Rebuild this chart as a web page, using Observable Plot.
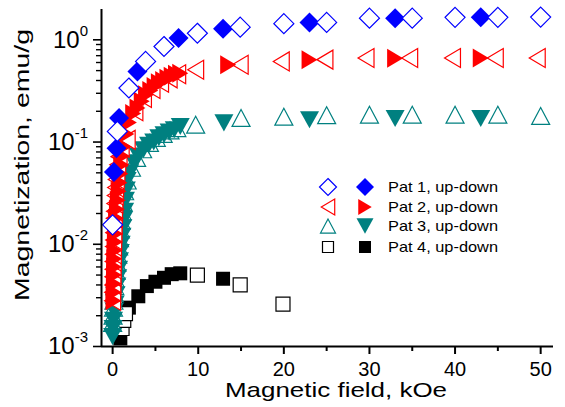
<!DOCTYPE html>
<html><head><meta charset="utf-8">
<script src="https://cdn.jsdelivr.net/npm/d3@7"></script>
<script src="https://cdn.jsdelivr.net/npm/@observablehq/plot@0.6"></script>
<style>
body{margin:0;background:#fff;}
#wrap{position:relative;width:565px;height:407px;}
</style></head><body><div id="wrap"></div>
<script>
// ---- data (magnetic field H in kOe, magnetization M in emu/g) ----
const pat1OpenH = [0.0, 0.55, 1.9, 3.85, 6.0, 9.9, 14.9, 20, 25, 30, 35, 40, 45, 50];
const pat1OpenM = [0.0155, 0.127, 0.338, 0.615, 0.86, 1.16, 1.33, 1.44, 1.48, 1.63, 1.63, 1.66, 1.66, 1.67];
const pat1FillH = [0.15, 0.45, 0.75, 2.9, 7.7, 12.9, 23, 33, 43];
const pat1FillM = [0.051, 0.087, 0.172, 0.49, 1.04, 1.28, 1.48, 1.63, 1.66];

const pat2OpenH = [0, 0, 0.02, 0.03, 0.05, 0.06, 0.08, 0.1, 0.12, 0.14, 0.16, 0.19, 0.22, 0.26, 0.3, 0.35, 0.42, 0.5, 0.6, 0.75, 1.0, 1.7, 2.6, 3.6, 4.6, 5.6, 6.6, 7.6, 9.7, 14.9, 19.7, 24.8, 29.6, 34.7, 39.7, 44.7, 49.6];
const pat2OpenM = [0.0028, 0.0034, 0.004, 0.0048, 0.0057, 0.0068, 0.008, 0.0095, 0.011, 0.013, 0.0155, 0.018, 0.021, 0.025, 0.03, 0.036, 0.043, 0.051, 0.06, 0.072, 0.088, 0.105, 0.2, 0.27, 0.33, 0.38, 0.42, 0.46, 0.51, 0.57, 0.615, 0.64, 0.664, 0.664, 0.664, 0.664, 0.664];
const pat2FillH = [0.1, 0.12, 0.14, 0.16, 0.18, 0.2, 0.23, 0.26, 0.3, 0.35, 0.4, 0.5, 0.6, 0.7, 0.8, 0.9, 1.0, 1.1, 1.3, 1.6, 1.9, 2.4, 2.9, 3.4, 3.9, 4.4, 4.9, 5.4, 5.9, 6.4, 6.9, 7.4, 7.9, 13.5, 23, 33, 43];
const pat2FillM = [0.0028, 0.0034, 0.0041, 0.005, 0.006, 0.0072, 0.0087, 0.0105, 0.0127, 0.015, 0.018, 0.022, 0.027, 0.033, 0.04, 0.049, 0.06, 0.073, 0.09, 0.12, 0.155, 0.19, 0.215, 0.25, 0.29, 0.32, 0.35, 0.38, 0.40, 0.42, 0.44, 0.46, 0.47, 0.57, 0.64, 0.66, 0.665];

const pat3OpenH = [0, 0.05, 0.1, 0.15, 0.2, 0.25, 0.3, 0.4, 0.5, 0.6, 0.7, 0.8, 0.9, 1.0, 1.1, 1.2, 1.4, 1.7, 2.2, 2.8, 3.5, 4.3, 5.1, 5.9, 6.7, 7.5, 9.7, 15, 20, 25, 30, 35, 40, 45, 50];
const pat3OpenM = [0.0017, 0.002, 0.0024, 0.0028, 0.0033, 0.0039, 0.0046, 0.0055, 0.0066, 0.0079, 0.0095, 0.0115, 0.014, 0.017, 0.021, 0.026, 0.033, 0.042, 0.056, 0.07, 0.085, 0.098, 0.11, 0.12, 0.13, 0.137, 0.148, 0.172, 0.177, 0.183, 0.185, 0.185, 0.185, 0.185, 0.18];
const pat3FillH = [0, 0.05, 0.1, 0.2, 0.3, 0.4, 0.5, 0.6, 0.7, 0.8, 0.9, 1.0, 1.1, 1.2, 1.3, 1.4, 1.5, 1.6, 1.7, 2.0, 2.5, 3.0, 3.6, 4.2, 4.8, 5.4, 6.0, 6.6, 7.2, 7.9, 13, 23, 33, 43];
const pat3FillM = [0.00125, 0.0015, 0.0018, 0.0022, 0.0026, 0.0032, 0.0039, 0.0047, 0.0057, 0.0069, 0.0083, 0.01, 0.012, 0.0145, 0.0175, 0.021, 0.027, 0.034, 0.042, 0.05, 0.0625, 0.073, 0.084, 0.093, 0.10, 0.11, 0.118, 0.125, 0.132, 0.142, 0.154, 0.165, 0.17, 0.17];

const pat4OpenH = [1.1, 1.3, 1.5, 9.9, 14.9, 19.9];
const pat4OpenM = [0.0015, 0.0018, 0.0021, 0.005, 0.0040, 0.0026];
const pat4FillH = [0.9, 1.9, 3.0, 4.0, 5.0, 6.0, 6.9, 7.9, 12.9];
const pat4FillM = [0.0012, 0.0024, 0.0031, 0.0039, 0.0043, 0.0047, 0.0051, 0.0052, 0.0046];

const legendLabels = ["Pat 1, up-down", "Pat 2, up-down", "Pat 3, up-down", "Pat 4, up-down"];
const xMajor = [0, 10, 20, 30, 40, 50];
const xMinor = [5, 15, 25, 35, 45];
const yMajor = [0.001, 0.01, 0.1, 1];
const yMinor = [0.002,0.003,0.004,0.005,0.006,0.007,0.008,0.009,0.02,0.03,0.04,0.05,0.06,0.07,0.08,0.09,0.2,0.3,0.4,0.5,0.6,0.7,0.8,0.9];
const xDomain = [-1.3, 51.5];
const yDomain = [0.001, 1.98];

// ---- symbols (centred on bounding box) ----
const sym = pts => ({draw(ctx, size) {
  const r = Math.sqrt(size / Math.PI);
  ctx.moveTo(pts[0][0] * r, pts[0][1] * r);
  for (let i = 1; i < pts.length; i++) ctx.lineTo(pts[i][0] * r, pts[i][1] * r);
  ctx.closePath();
}});
const diamond = sym([[0,-1],[1,0],[0,1],[-1,0]]);
const triLeft = sym([[-0.84,0],[0.84,-1],[0.84,1]]);
const triRight = sym([[0.84,0],[-0.84,-1],[-0.84,1]]);
const triUp = sym([[0,-0.94],[1,0.94],[-1,0.94]]);
const triDown = sym([[0,0.9],[1,-0.9],[-1,-0.9]]);
const square = sym([[-1,-1],[1,-1],[1,1],[-1,1]]);

const BLUE = "#0000ff", RED = "#ff0000", TEAL = "#008080", BLACK = "#000000";
const rows = (H, M) => H.map((h, i) => ({H: h, M: M[i]}));
const open = (H, M, s, r, c) => Plot.dot(rows(H, M), {x: "H", y: "M", symbol: s, r, fill: "white", stroke: c, strokeWidth: 1.2});
const full = (H, M, s, r, c) => Plot.dot(rows(H, M), {x: "H", y: "M", symbol: s, r, fill: c, stroke: "none"});
const none = () => "";

const chart = Plot.plot({
  width: 565, height: 407,
  marginLeft: 101, marginRight: 12, marginTop: 9, marginBottom: 61,
  x: {domain: xDomain},
  y: {type: "log", domain: yDomain},
  style: {fontFamily: "'Liberation Sans', Arial, sans-serif", background: "white", color: "black", overflow: "visible"},
  marks: [
    full(pat4FillH, pat4FillM, square, 7, BLACK),
    open(pat4OpenH, pat4OpenM, square, 7, BLACK),
    open(pat3OpenH, pat3OpenM, triUp, 9, TEAL),
    full(pat3FillH, pat3FillM, triDown, 9.5, TEAL),
    open(pat2OpenH, pat2OpenM, triLeft, 9.5, RED),
    full(pat2FillH, pat2FillM, triRight, 9.5, RED),
    full(pat1FillH, pat1FillM, diamond, 10, BLUE),
    open(pat1OpenH, pat1OpenM, diamond, 10, BLUE),
    Plot.ruleX([xDomain[0]], {strokeWidth: 2}),
    Plot.ruleY([yDomain[0]], {strokeWidth: 2}),
    Plot.axisX({ticks: xMajor, tickSize: 8, tickPadding: 7, strokeWidth: 2, fontSize: 20, label: null}),
    Plot.axisX({ticks: xMinor, tickSize: 5, strokeWidth: 2, tickFormat: none, label: null}),
    Plot.axisY({ticks: yMajor, tickSize: 8, strokeWidth: 1.6, tickFormat: none, label: null}),
    Plot.axisY({ticks: yMinor, tickSize: 5, strokeWidth: 1.4, tickFormat: none, label: null}),
    Plot.axisY({ticks: yMajor, tickSize: 0, tickPadding: 13, fontSize: 24,
      tickFormat: d => "10^" + Math.round(Math.log10(d)), label: null})
  ]
});
document.getElementById("wrap").appendChild(chart);

const svg = d3.select(chart);
const svgLeft = chart.getBoundingClientRect().left;
// superscripts on y tick labels, right edge at x = 88
svg.selectAll('g[aria-label="y-axis tick label"] text').each(function() {
  const t = this.textContent.split("^");
  if (t.length < 2) return;
  this.textContent = "";
  const s = d3.select(this);
  s.attr("text-anchor", "end");
  s.append("tspan").text(t[0]);
  s.append("tspan").attr("font-size", 15).attr("dy", "-0.8em").text(t[1]);
  const right = this.getBoundingClientRect().right - svgLeft;
  const shift = 88 - right;
  const prev = this.getAttribute("transform") || "";
  this.setAttribute("transform", `translate(${shift},0) ${prev}`);
});

// axis titles
svg.append("text").attr("x", 336).attr("y", 397).attr("text-anchor", "middle")
  .attr("font-size", 21).attr("textLength", 222).attr("lengthAdjust", "spacingAndGlyphs")
  .text("Magnetic field, kOe");
svg.append("text").attr("transform", "translate(29,165) rotate(-90)").attr("text-anchor", "middle")
  .attr("font-size", 21).attr("textLength", 272).attr("lengthAdjust", "spacingAndGlyphs")
  .text("Magnetization, emu/g");

// legend
const legendRows = [
  {o: diamond, or: 8.5, f: diamond, fr: 9, c: BLUE},
  {o: triLeft, or: 8, f: triRight, fr: 8, c: RED},
  {o: triUp, or: 7.5, f: triDown, fr: 8.5, c: TEAL},
  {o: square, or: 5.5, f: square, fr: 6, c: BLACK}
];
const rowY = [187, 207, 226, 247];
const lg = svg.append("g").attr("text-anchor", "start");
legendRows.forEach((d, i) => {
  lg.append("path").attr("transform", `translate(328,${rowY[i]})`)
    .attr("d", d3.symbol().type(d.o).size(d.or * d.or * Math.PI)())
    .attr("fill", "white").attr("stroke", d.c).attr("stroke-width", 1.2);
  lg.append("path").attr("transform", `translate(365,${rowY[i]})`)
    .attr("d", d3.symbol().type(d.f).size(d.fr * d.fr * Math.PI)())
    .attr("fill", d.c);
  lg.append("text").attr("x", 388).attr("y", rowY[i]).attr("dy", "0.36em")
    .attr("text-anchor", "start")
    .attr("font-size", 14.5).attr("textLength", 110).attr("lengthAdjust", "spacingAndGlyphs")
    .text(legendLabels[i]);
});
</script></body></html>
